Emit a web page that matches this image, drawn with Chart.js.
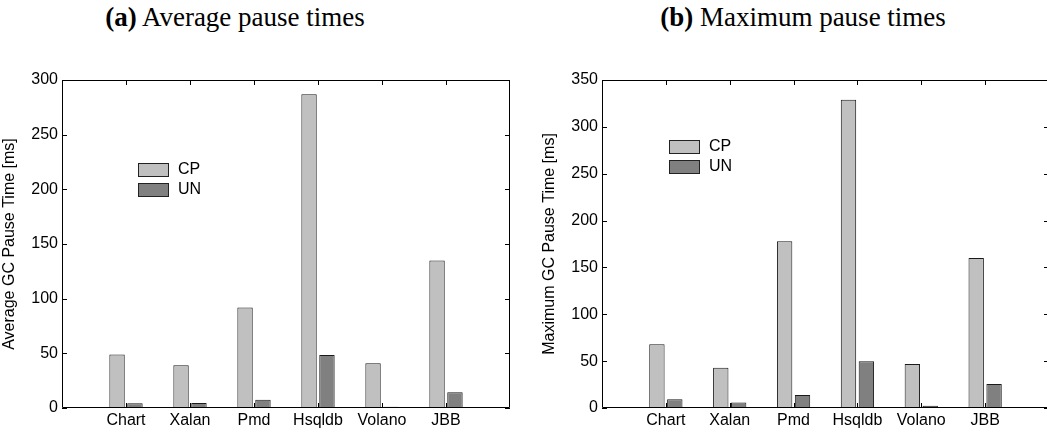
<!DOCTYPE html>
<html>
<head>
<meta charset="utf-8">
<script src="https://cdn.jsdelivr.net/npm/chart.js@4/dist/chart.umd.min.js"></script>
<style>
  html, body { margin: 0; padding: 0; background: #fff; }
  body { width: 1047px; height: 432px; position: relative; overflow: hidden; }
  .ttl { position: absolute; top: 2px; font-family: "Liberation Serif", "Times New Roman", serif;
         font-size: 27px; color: #000; white-space: nowrap; transform: translateX(-50%); }
  #wrapA { position: absolute; left: 0; top: 60px; width: 523px; height: 372px; }
  #wrapB { position: absolute; left: 540px; top: 60px; width: 512px; height: 372px; }
</style>
</head>
<body>
<div class="ttl" style="left:235px"><b>(a)</b> Average pause times</div>
<div class="ttl" style="left:803px"><b>(b)</b> Maximum pause times</div>
<div id="wrapA"><canvas id="chartA"></canvas></div>
<div id="wrapB"><canvas id="chartB"></canvas></div>
<script>
var categories = ['Chart', 'Xalan', 'Pmd', 'Hsqldb', 'Volano', 'JBB'];
var seriesNames = ['CP', 'UN'];
var avgCP = [49, 39, 92, 287, 41, 135];
var avgUN = [4.3, 4.6, 7.6, 48.5, 1.2, 14.3];
var maxCP = [68, 43, 178, 329, 47, 160];
var maxUN = [9.3, 6, 14, 50, 2.5, 25.6];
var avgTicks = [0, 50, 100, 150, 200, 250, 300];
var maxTicks = [0, 50, 100, 150, 200, 250, 300, 350];

// empty slot before and after the groups, like the original axis limits
var labels = [''].concat(categories, ['']);
function pad(arr) { return [null].concat(arr, [null]); }

var boxTicks = {
    id: 'boxTicks',
    afterDraw: function(chart) {
        var ctx = chart.ctx, a = chart.chartArea, x = chart.scales.x, y = chart.scales.y;
        ctx.save();
        ctx.strokeStyle = '#000';
        ctx.lineWidth = 1;
        ctx.beginPath();
        ctx.rect(Math.round(a.left) + 0.5, Math.round(a.top) + 0.5,
                 Math.round(a.right - a.left) - 1, Math.round(a.bottom - a.top) - 1);
        y.ticks.forEach(function(t) {
            var py = Math.round(y.getPixelForValue(t.value)) + 0.5;
            ctx.moveTo(a.left, py); ctx.lineTo(a.left + 5, py);
            ctx.moveTo(a.right, py); ctx.lineTo(a.right - 5, py);
        });
        for (var i = 1; i <= categories.length; i++) {
            var px = Math.round(x.getPixelForValue(i)) + 0.5;
            ctx.moveTo(px, a.bottom); ctx.lineTo(px, a.bottom - 5);
            ctx.moveTo(px, a.top); ctx.lineTo(px, a.top + 5);
        }
        ctx.stroke();

        // legend box inside the plot
        var lg = chart.options.plugins.boxTicks;
        ctx.font = '16px "Liberation Sans", Arial, sans-serif';
        ctx.textBaseline = 'middle';
        chart.data.datasets.forEach(function(ds, k) {
            var top = lg.top + k * 20;
            ctx.fillStyle = ds.backgroundColor;
            ctx.fillRect(lg.left, top, 30, 13);
            ctx.strokeStyle = '#222';
            ctx.strokeRect(lg.left + 0.5, top + 0.5, 30, 13);
            ctx.fillStyle = '#000';
            ctx.fillText(ds.label, lg.left + 40, top + 7);
        });
        ctx.restore();
    }
};

function makeChart(id, cp, un, ticks, yTitle, legendPos, rightPad) {
    return new Chart(document.getElementById(id), {
        type: 'bar',
        data: {
            labels: labels,
            datasets: [{
                label: seriesNames[0],
                data: pad(cp),
                backgroundColor: '#c0c0c0',
                borderColor: '#1a1a1a',
                borderWidth: 1
            }, {
                label: seriesNames[1],
                data: pad(un),
                backgroundColor: '#808080',
                borderColor: '#1a1a1a',
                borderWidth: 1
            }]
        },
        options: {
            responsive: true,
            maintainAspectRatio: false,
            animation: false,
            layout: { padding: { top: 20, right: rightPad, left: 0, bottom: 0 } },
            categoryPercentage: 0.56,
            barPercentage: 0.86,
            plugins: {
                legend: { display: false },
                tooltip: { enabled: false },
                boxTicks: legendPos
            },
            scales: {
                x: {
                    offset: false,
                    grid: { display: false, drawTicks: false },
                    border: { display: false },
                    ticks: {
                        color: '#000', padding: 3, maxRotation: 0, autoSkip: false,
                        font: { family: '"Liberation Sans", Arial, sans-serif', size: 16 }
                    },
                    afterFit: function(s) { s.height = 24; }
                },
                y: {
                    min: 0,
                    max: ticks[ticks.length - 1],
                    afterBuildTicks: function(s) { s.ticks = ticks.map(function(v) { return { value: v }; }); },
                    grid: { display: false, drawTicks: false },
                    border: { display: false },
                    ticks: {
                        color: '#000', padding: 4,
                        font: { family: '"Liberation Sans", Arial, sans-serif', size: 16 }
                    },
                    title: {
                        display: true, text: yTitle, color: '#000', padding: { top: 0, bottom: 0 },
                        font: { family: '"Liberation Sans", Arial, sans-serif', size: 16 }
                    },
                    afterFit: function(s) { s.width = 62; }
                }
            }
        },
        plugins: [boxTicks]
    });
}

makeChart('chartA', avgCP, avgUN, avgTicks, 'Average GC Pause Time [ms]', { left: 138, top: 103 }, 13);
makeChart('chartB', maxCP, maxUN, maxTicks, 'Maximum GC Pause Time [ms]', { left: 129, top: 80 }, 3);
</script>
</body>
</html>
